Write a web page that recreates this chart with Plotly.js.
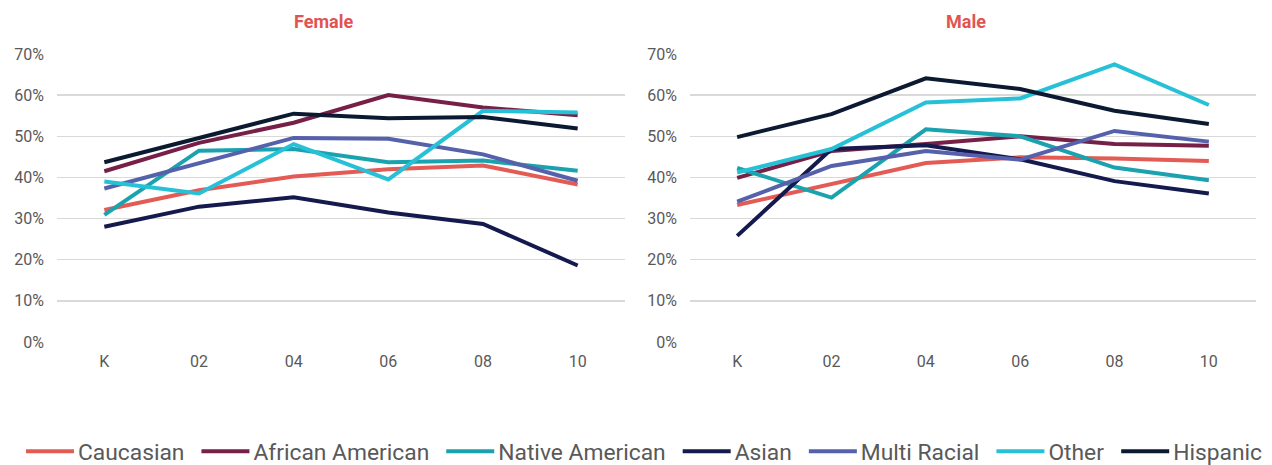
<!DOCTYPE html>
<html>
<head>
<meta charset="utf-8">
<script src="https://cdn.plot.ly/plotly-3.0.1.min.js"></script>
<style>html,body{margin:0;padding:0;background:#fff;overflow:hidden;}#chart{width:1272px;height:473px;}</style>
</head>
<body>
<div id="chart"></div>
<script>
var grades = ['K', '02', '04', '06', '08', '10'];
var groups = ['Caucasian', 'African American', 'Native American', 'Asian', 'Multi Racial', 'Other', 'Hispanic'];
var colors = ['#E35B55', '#761F47', '#1AA3AF', '#141A4E', '#5561AB', '#27C1D7', '#0B1A31'];

var femaleCaucasian = [0.321, 0.369, 0.402, 0.420, 0.429, 0.383];
var femaleAfricanAmerican = [0.415, 0.484, 0.533, 0.600, 0.570, 0.551];
var femaleNativeAmerican = [0.309, 0.465, 0.469, 0.437, 0.441, 0.416];
var femaleAsian = [0.280, 0.329, 0.352, 0.315, 0.287, 0.186];
var femaleMultiRacial = [0.373, 0.434, 0.496, 0.494, 0.456, 0.392];
var femaleOther = [0.390, 0.361, 0.481, 0.395, 0.562, 0.558];
var femaleHispanic = [0.437, 0.496, 0.555, 0.544, 0.547, 0.519];

var maleCaucasian = [0.333, 0.385, 0.435, 0.449, 0.446, 0.440];
var maleAfricanAmerican = [0.399, 0.464, 0.481, 0.500, 0.481, 0.477];
var maleNativeAmerican = [0.423, 0.351, 0.517, 0.500, 0.424, 0.393];
var maleAsian = [0.258, 0.469, 0.478, 0.444, 0.391, 0.361];
var maleMultiRacial = [0.341, 0.428, 0.464, 0.443, 0.513, 0.487];
var maleOther = [0.412, 0.469, 0.582, 0.592, 0.675, 0.576];
var maleHispanic = [0.498, 0.554, 0.641, 0.615, 0.562, 0.530];

var femaleSeries = [femaleCaucasian, femaleAfricanAmerican, femaleNativeAmerican, femaleAsian, femaleMultiRacial, femaleOther, femaleHispanic];
var maleSeries = [maleCaucasian, maleAfricanAmerican, maleNativeAmerican, maleAsian, maleMultiRacial, maleOther, maleHispanic];

var traces = [];
groups.forEach(function (g, i) {
  traces.push({
    x: grades, y: femaleSeries[i], name: g, type: 'scatter', mode: 'lines',
    line: {color: colors[i], width: 4}, legendgroup: g, showlegend: true,
    xaxis: 'x', yaxis: 'y', cliponaxis: false
  });
});
groups.forEach(function (g, i) {
  traces.push({
    x: grades, y: maleSeries[i], name: g, type: 'scatter', mode: 'lines',
    line: {color: colors[i], width: 4}, legendgroup: g, showlegend: false,
    xaxis: 'x2', yaxis: 'y2', cliponaxis: false
  });
});

var tickFont = {family: 'Roboto, Arial, sans-serif', size: 16, color: '#595959'};
var W = 1272, H = 473;
var yDom = [(H - 342) / H, (H - 54) / H];

function xAx(dom, anchor) {
  return {
    domain: dom, anchor: anchor, type: 'category', range: [-0.5, 5.5],
    showgrid: false, zeroline: false, showline: false, ticks: '',
    tickfont: tickFont, ticklabelstandoff: 8, fixedrange: true
  };
}
function yAx(anchor) {
  return {
    domain: yDom, anchor: anchor, range: [0, 0.7], dtick: 0.1, tickformat: '.0%',
    showgrid: true, gridcolor: '#D9D9D9', gridwidth: 1.5, zeroline: false,
    showline: false, ticks: '', tickfont: tickFont, ticklabelstandoff: 12, fixedrange: true
  };
}

var titleFont = {family: '"Liberation Sans Narrow", Roboto, Arial, sans-serif', size: 18, color: '#E05552', weight: 'bold'};

var layout = {
  width: W, height: H,
  margin: {l: 0, r: 0, t: 0, b: 0},
  paper_bgcolor: '#fff', plot_bgcolor: '#fff',
  showlegend: true,
  xaxis: xAx([57 / W, 625 / W], 'y'),
  yaxis: yAx('x'),
  xaxis2: xAx([690 / W, 1256 / W], 'y2'),
  yaxis2: yAx('x2'),
  legend: {
    orientation: 'h', x: 0.5 + 5 / W, xanchor: 'center', y: 0, yanchor: 'bottom',
    font: {family: 'Roboto, Arial, sans-serif', size: 22.8, color: '#595959'},
    itemwidth: 54, tracegroupgap: 0
  },
  annotations: [
    {text: '<b>Female</b>', x: 323 / W, y: 1 - 21 / H, xref: 'paper', yref: 'paper', xanchor: 'center', yanchor: 'middle', showarrow: false, font: titleFont},
    {text: '<b>Male</b>', x: 966 / W, y: 1 - 21 / H, xref: 'paper', yref: 'paper', xanchor: 'center', yanchor: 'middle', showarrow: false, font: titleFont}
  ]
};

Plotly.newPlot('chart', traces, layout, {displayModeBar: false, staticPlot: true}).then(function (gd) {
  // lengthen the legend line samples so they read like the reference's longer swatches
  gd.querySelectorAll('.legend .legendlines path').forEach(function (p) {
    p.setAttribute('d', 'M12,0h48');
  });
});
</script>
</body>
</html>
